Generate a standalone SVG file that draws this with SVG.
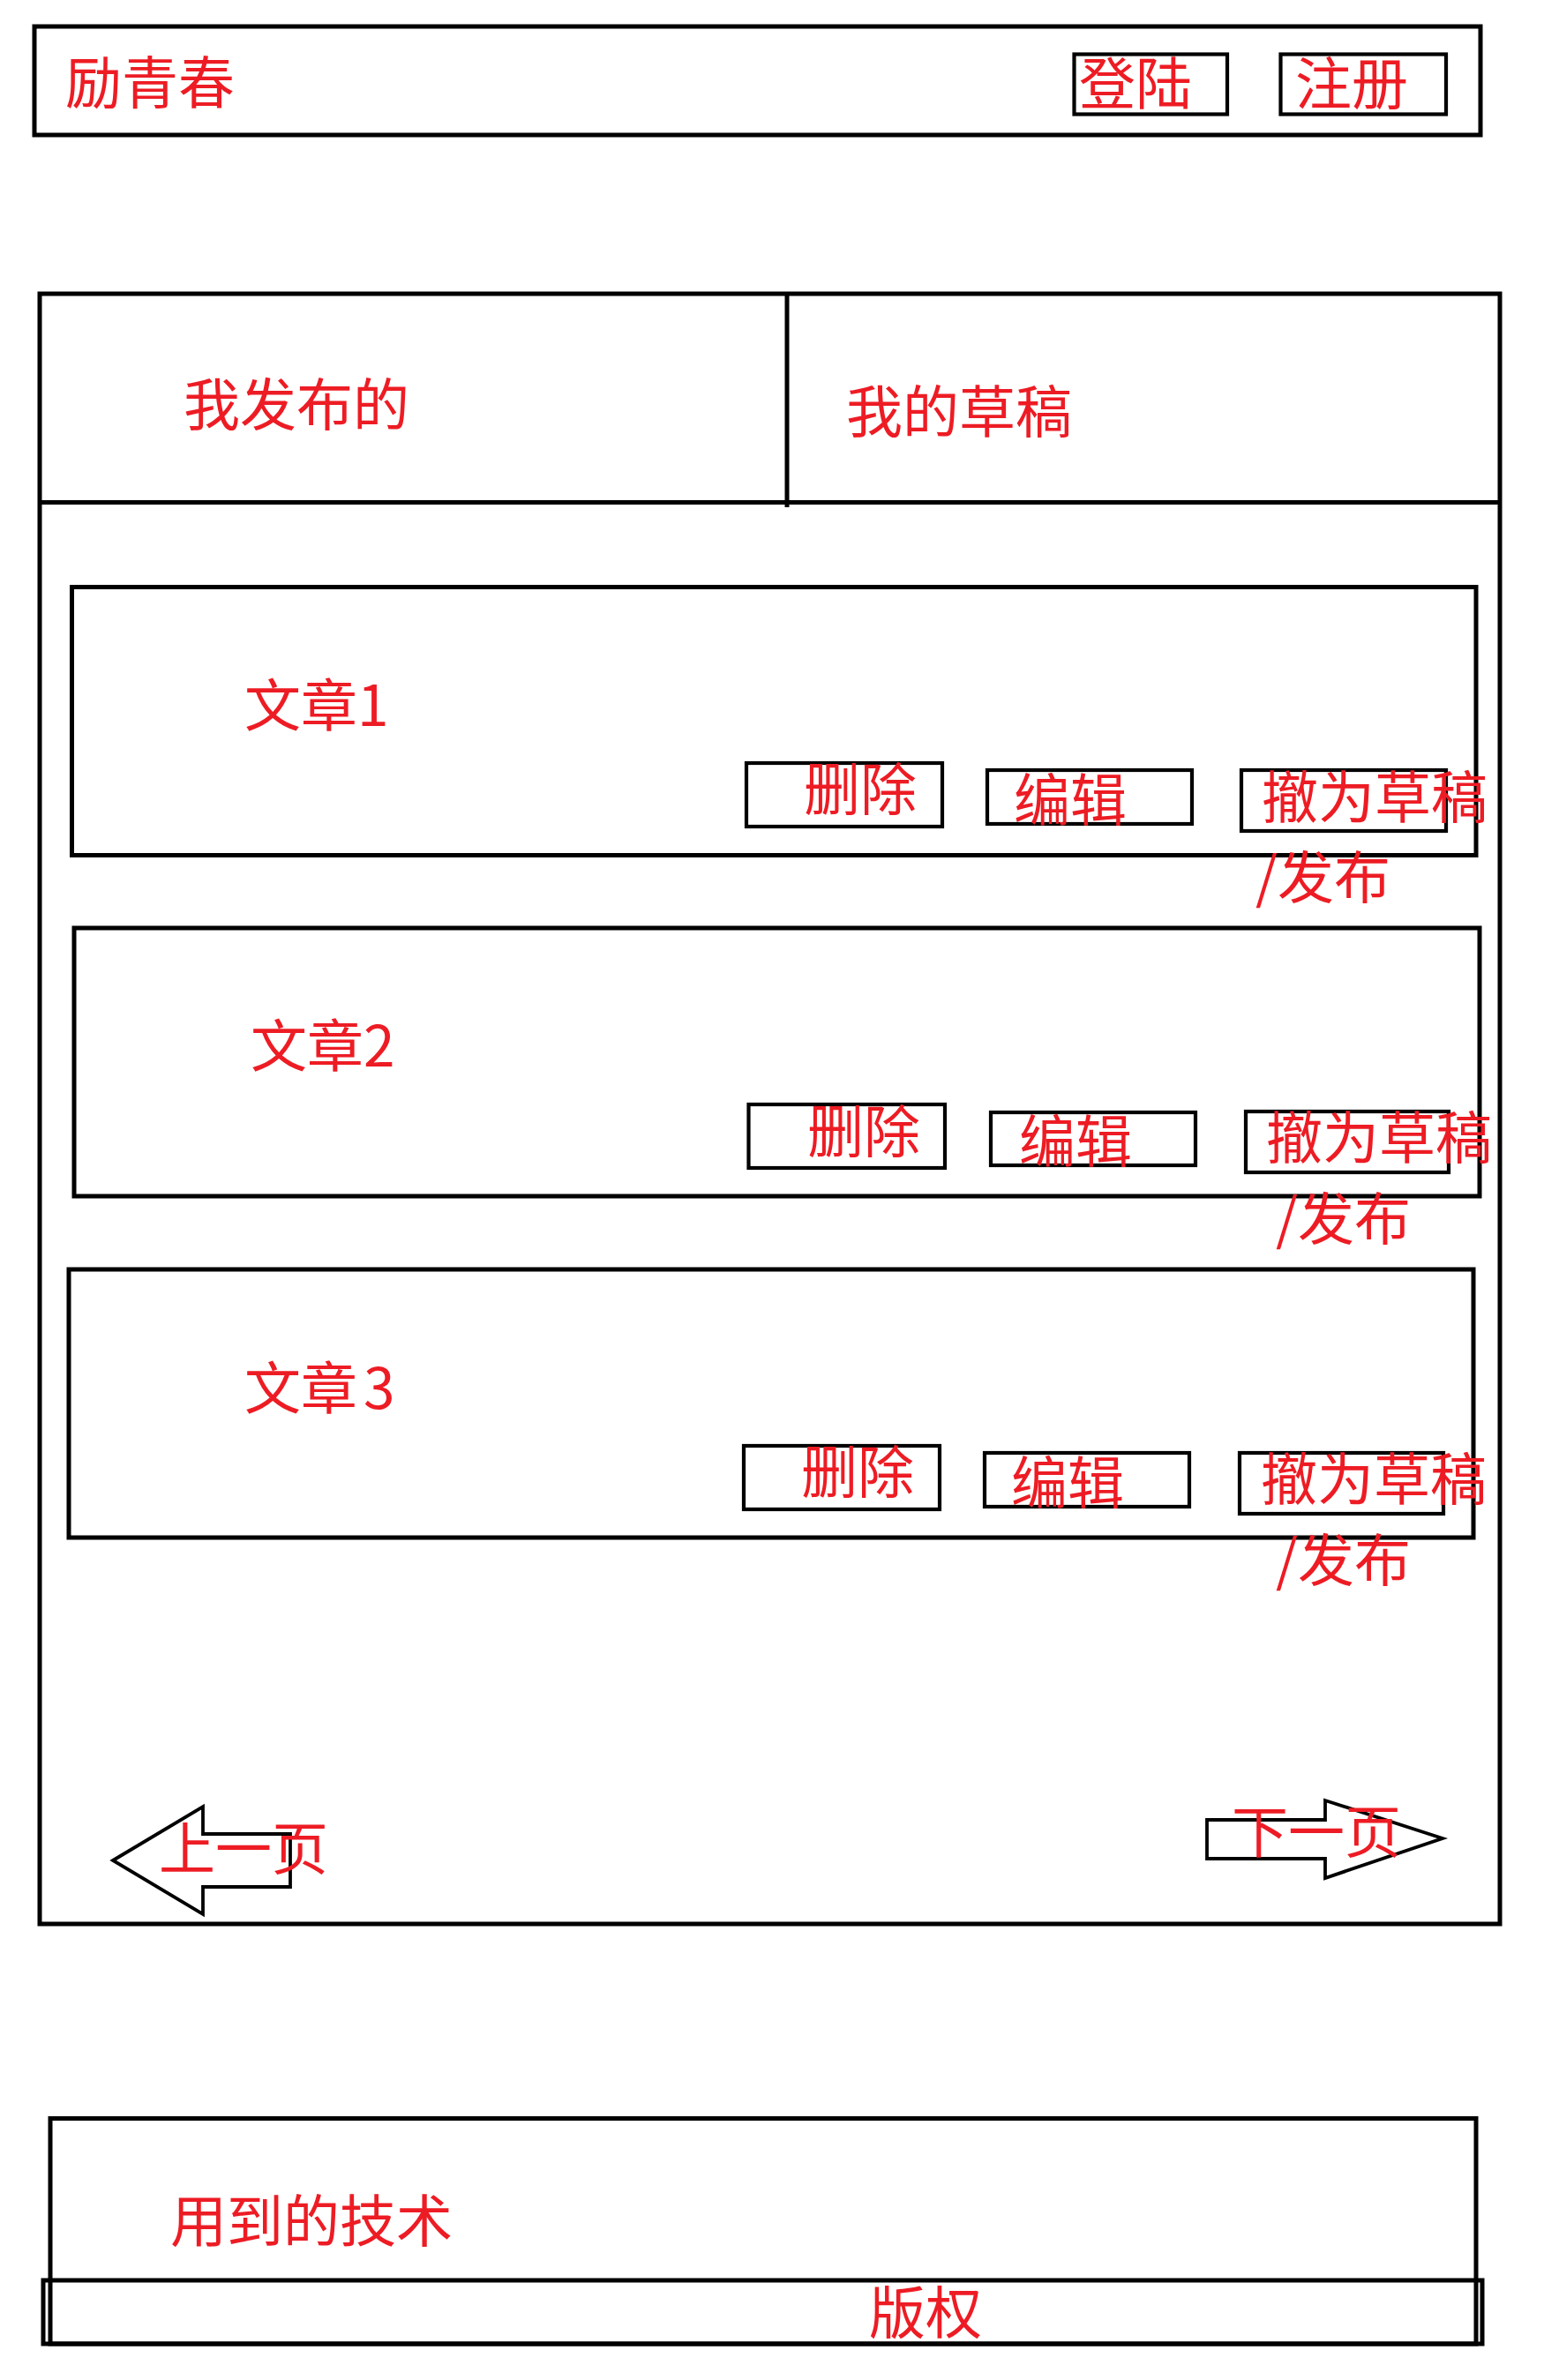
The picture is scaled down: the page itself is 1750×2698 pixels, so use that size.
<svg xmlns="http://www.w3.org/2000/svg" width="1750" height="2698" viewBox="0 0 1750 2698">
<style>
.box{fill:none;stroke:#000;stroke-width:5}
.btn{fill:none;stroke:#000;stroke-width:4.2}
.arr{fill:none;stroke:#000;stroke-width:3.8;stroke-linejoin:miter}
.t{font-family:"Noto Sans CJK SC","Microsoft YaHei",sans-serif;font-size:64px;fill:#ed1c24}
</style>
<rect width="1750" height="2698" fill="#fff"/>
<g id="header">
<rect class="box" x="39" y="30" width="1639" height="123"/>
<text class="t" x="74" y="117">励青春</text>
</g>
<g id="login">
<rect class="btn" x="1217.5" y="61.5" width="173.5" height="68"/>
<text class="t" x="1223" y="118">登陆</text>
</g>
<g id="register">
<rect class="btn" x="1451.5" y="61.5" width="187.5" height="68"/>
<text class="t" x="1468" y="118">注册</text>
</g>
<g id="main">
<rect class="box" x="45" y="333" width="1655" height="1848"/>
<line class="box" x1="45" y1="569.5" x2="1700" y2="569.5"/>
<line class="box" x1="892" y1="333" x2="892" y2="575"/>
</g>
<g id="tab-published"><text class="t" x="208" y="482">我发布的</text></g>
<g id="tab-drafts"><text class="t" x="959" y="490">我的草稿</text></g>
<g id="article1">
<rect class="box" x="81.5" y="665.5" width="1591.5" height="304"/>
<text class="t" x="277" y="823">文章1</text>
<rect class="btn" x="846" y="865" width="222" height="72"/>
<text class="t" x="911" y="918">删除</text>
<rect class="btn" x="1119" y="873" width="232" height="61"/>
<text class="t" x="1149" y="930">编辑</text>
<rect class="btn" x="1407" y="873" width="232" height="69"/>
<text class="t" x="1430" y="927">撤为草稿</text>
<text class="t" x="1423" y="1018">/发布</text>
</g>
<g id="article2">
<rect class="box" x="84" y="1052" width="1593" height="304"/>
<text class="t" x="284" y="1209">文章2</text>
<rect class="btn" x="848.5" y="1252" width="222.5" height="72"/>
<text class="t" x="915" y="1306">删除</text>
<rect class="btn" x="1123" y="1261" width="232" height="60"/>
<text class="t" x="1155" y="1317">编辑</text>
<rect class="btn" x="1412" y="1260" width="230" height="69"/>
<text class="t" x="1435" y="1313">撤为草稿</text>
<text class="t" x="1446" y="1405">/发布</text>
</g>
<g id="article3">
<rect class="box" x="78" y="1439" width="1592" height="304"/>
<text class="t" x="277" y="1597">文章<tspan dx="7">3</tspan></text>
<rect class="btn" x="843" y="1639" width="222" height="72"/>
<text class="t" x="908" y="1692">删除</text>
<rect class="btn" x="1116" y="1647" width="232" height="61"/>
<text class="t" x="1146" y="1704">编辑</text>
<rect class="btn" x="1405" y="1647" width="231" height="69"/>
<text class="t" x="1429" y="1700">撤为草稿</text>
<text class="t" x="1446" y="1792">/发布</text>
</g>
<g id="prev">
<polygon class="arr" points="128,2109 230,2048 230,2079 329,2079 329,2139 230,2139 230,2170"/>
<text class="t" x="180" y="2119">上一页</text>
</g>
<g id="next">
<polygon class="arr" points="1368,2063 1502,2063 1502,2041 1635,2084 1502,2129 1502,2107 1368,2107"/>
<text class="t" x="1396" y="2100">下一页</text>
</g>
<g id="tech">
<rect class="box" x="57" y="2401.5" width="1616" height="255.5"/>
<text class="t" x="193" y="2541">用到的技术</text>
</g>
<g id="copyright">
<rect class="box" x="49" y="2585" width="1631" height="72"/>
<text class="t" x="985" y="2645">版权</text>
</g>
<g id="connectors"></g>
</svg>
